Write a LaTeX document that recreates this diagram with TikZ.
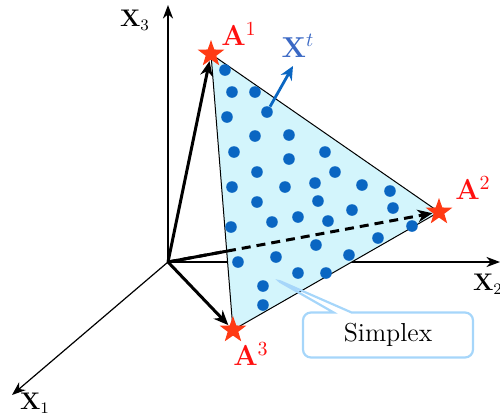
\documentclass[tikz,border=0pt]{standalone}
\usepackage{amsmath}
\usepackage{xcolor}
\usepackage{tikz}
\usetikzlibrary{arrows.meta,shapes.geometric,shapes.callouts,backgrounds}
\definecolor{sface}{HTML}{D3F5FC}
\definecolor{sdot}{HTML}{0A66C2}
\definecolor{sstar}{HTML}{FF3A14}
\definecolor{sred}{HTML}{FF1010}
\definecolor{sline}{HTML}{A6D6FA}
\definecolor{sxt}{HTML}{3A68C4}
\tikzset{
  >={Stealth[length=2mm]},
  saxis/.style={black, line width=0.6pt, -{Stealth[length=2.4mm,width=1.8mm]}},
  svec/.style={black, line width=1.5pt, -{Stealth[length=2.6mm,width=2.2mm]}},
  sfacet/.style={fill=sface, draw=black, line width=0.5pt},
  sstarnode/.style={star, star points=5, star point ratio=2.5, fill=sstar,
                    minimum size=14pt, inner sep=0pt},
  svert/.style={text=sred, font=\Large},
  saxlbl/.style={font=\large, inner sep=1pt},
  sdrift/.style={sdot, line width=1.4pt, -{Stealth[length=2.4mm,width=2.2mm]}},
  scallout/.style={rectangle callout, rounded corners=4pt, draw=sline,
                   line width=1.1pt, minimum width=85pt, minimum height=22.5pt,
                   callout pointer width=9pt, font=\fontsize{13}{15}\selectfont},
}

\begin{document}
\begin{tikzpicture}[x=0.5pt,y=-0.5pt]
  \useasboundingbox (0,0) rectangle (500,414);

  % --- axes ---
  \coordinate (O) at (168,262);
  \coordinate (e1) at (12,395);
  \coordinate (e2) at (500,262);
  \coordinate (e3) at (168,5);
  \node[saxlbl] (x1) at (35,403) {$\mathbf{X}_1$};
  \node[saxlbl] (x2) at (488,284) {$\mathbf{X}_2$};
  \node[saxlbl] (x3) at (135,20) {$\mathbf{X}_3$};

  % --- vertices ---
  \node[sstarnode] (a1) at (211,54) {};
  \node[sstarnode] (a2) at (439,212) {};
  \node[sstarnode] (a3) at (233,330) {};
  \node[svert] (a1l) at (239,34) {$\mathbf{A}^1$};
  \node[svert] (a2l) at (473,188) {$\mathbf{A}^2$};
  \node[svert] (a3l) at (251,354) {$\mathbf{A}^3$};

  \begin{scope}[on background layer]
    \draw[saxis] (O) -- (e1);
    \draw[saxis] (O) -- (e2);
    \draw[saxis] (O) -- (e3);
    \draw[black, line width=1.5pt] (O) -- (a2);
    \filldraw[sfacet] (a1.center) -- (a2.center) -- (a3.center) -- cycle;
  \end{scope}

  % --- simplex ---
  \draw[svec, dash pattern=on 4.5pt off 3pt] (O) -- (a2);
  \draw[svec] (O) -- (a1);
  \draw[svec] (O) -- (a3);

  % points
  \foreach \px/\py in {225/70,232/92,255/92,227/117,255/136,289/135,234/152,
      289/159,325/152,257/172,335/172,232/187,285/187,315/183,362/185,390/191,
      257/202,318/201,352/210,393/208,231/227,272/222,298/217,328/221,
      412/226,378/238,316/245,349/255,238/262,276/257,298/273,326/273,
      263/286,263/305}
    \fill[sdot] (\px,\py) circle (2.9pt);
  \node[circle, fill=sdot, inner sep=0pt, minimum size=5.8pt] (xt) at (267,112) {};
  \coordinate (xtip) at (293,66);
  \draw[sdrift] (xt) -- (xtip);
  \node[text=sxt, font=\Large] (xtl) at (298,46) {$\mathbf{X}^t$};

  % callout
  \coordinate (ptip) at (275,279);
  \node[scallout, callout absolute pointer={(ptip)}] (simplex) at (388,335) {Simplex};

\end{tikzpicture}
\end{document}
